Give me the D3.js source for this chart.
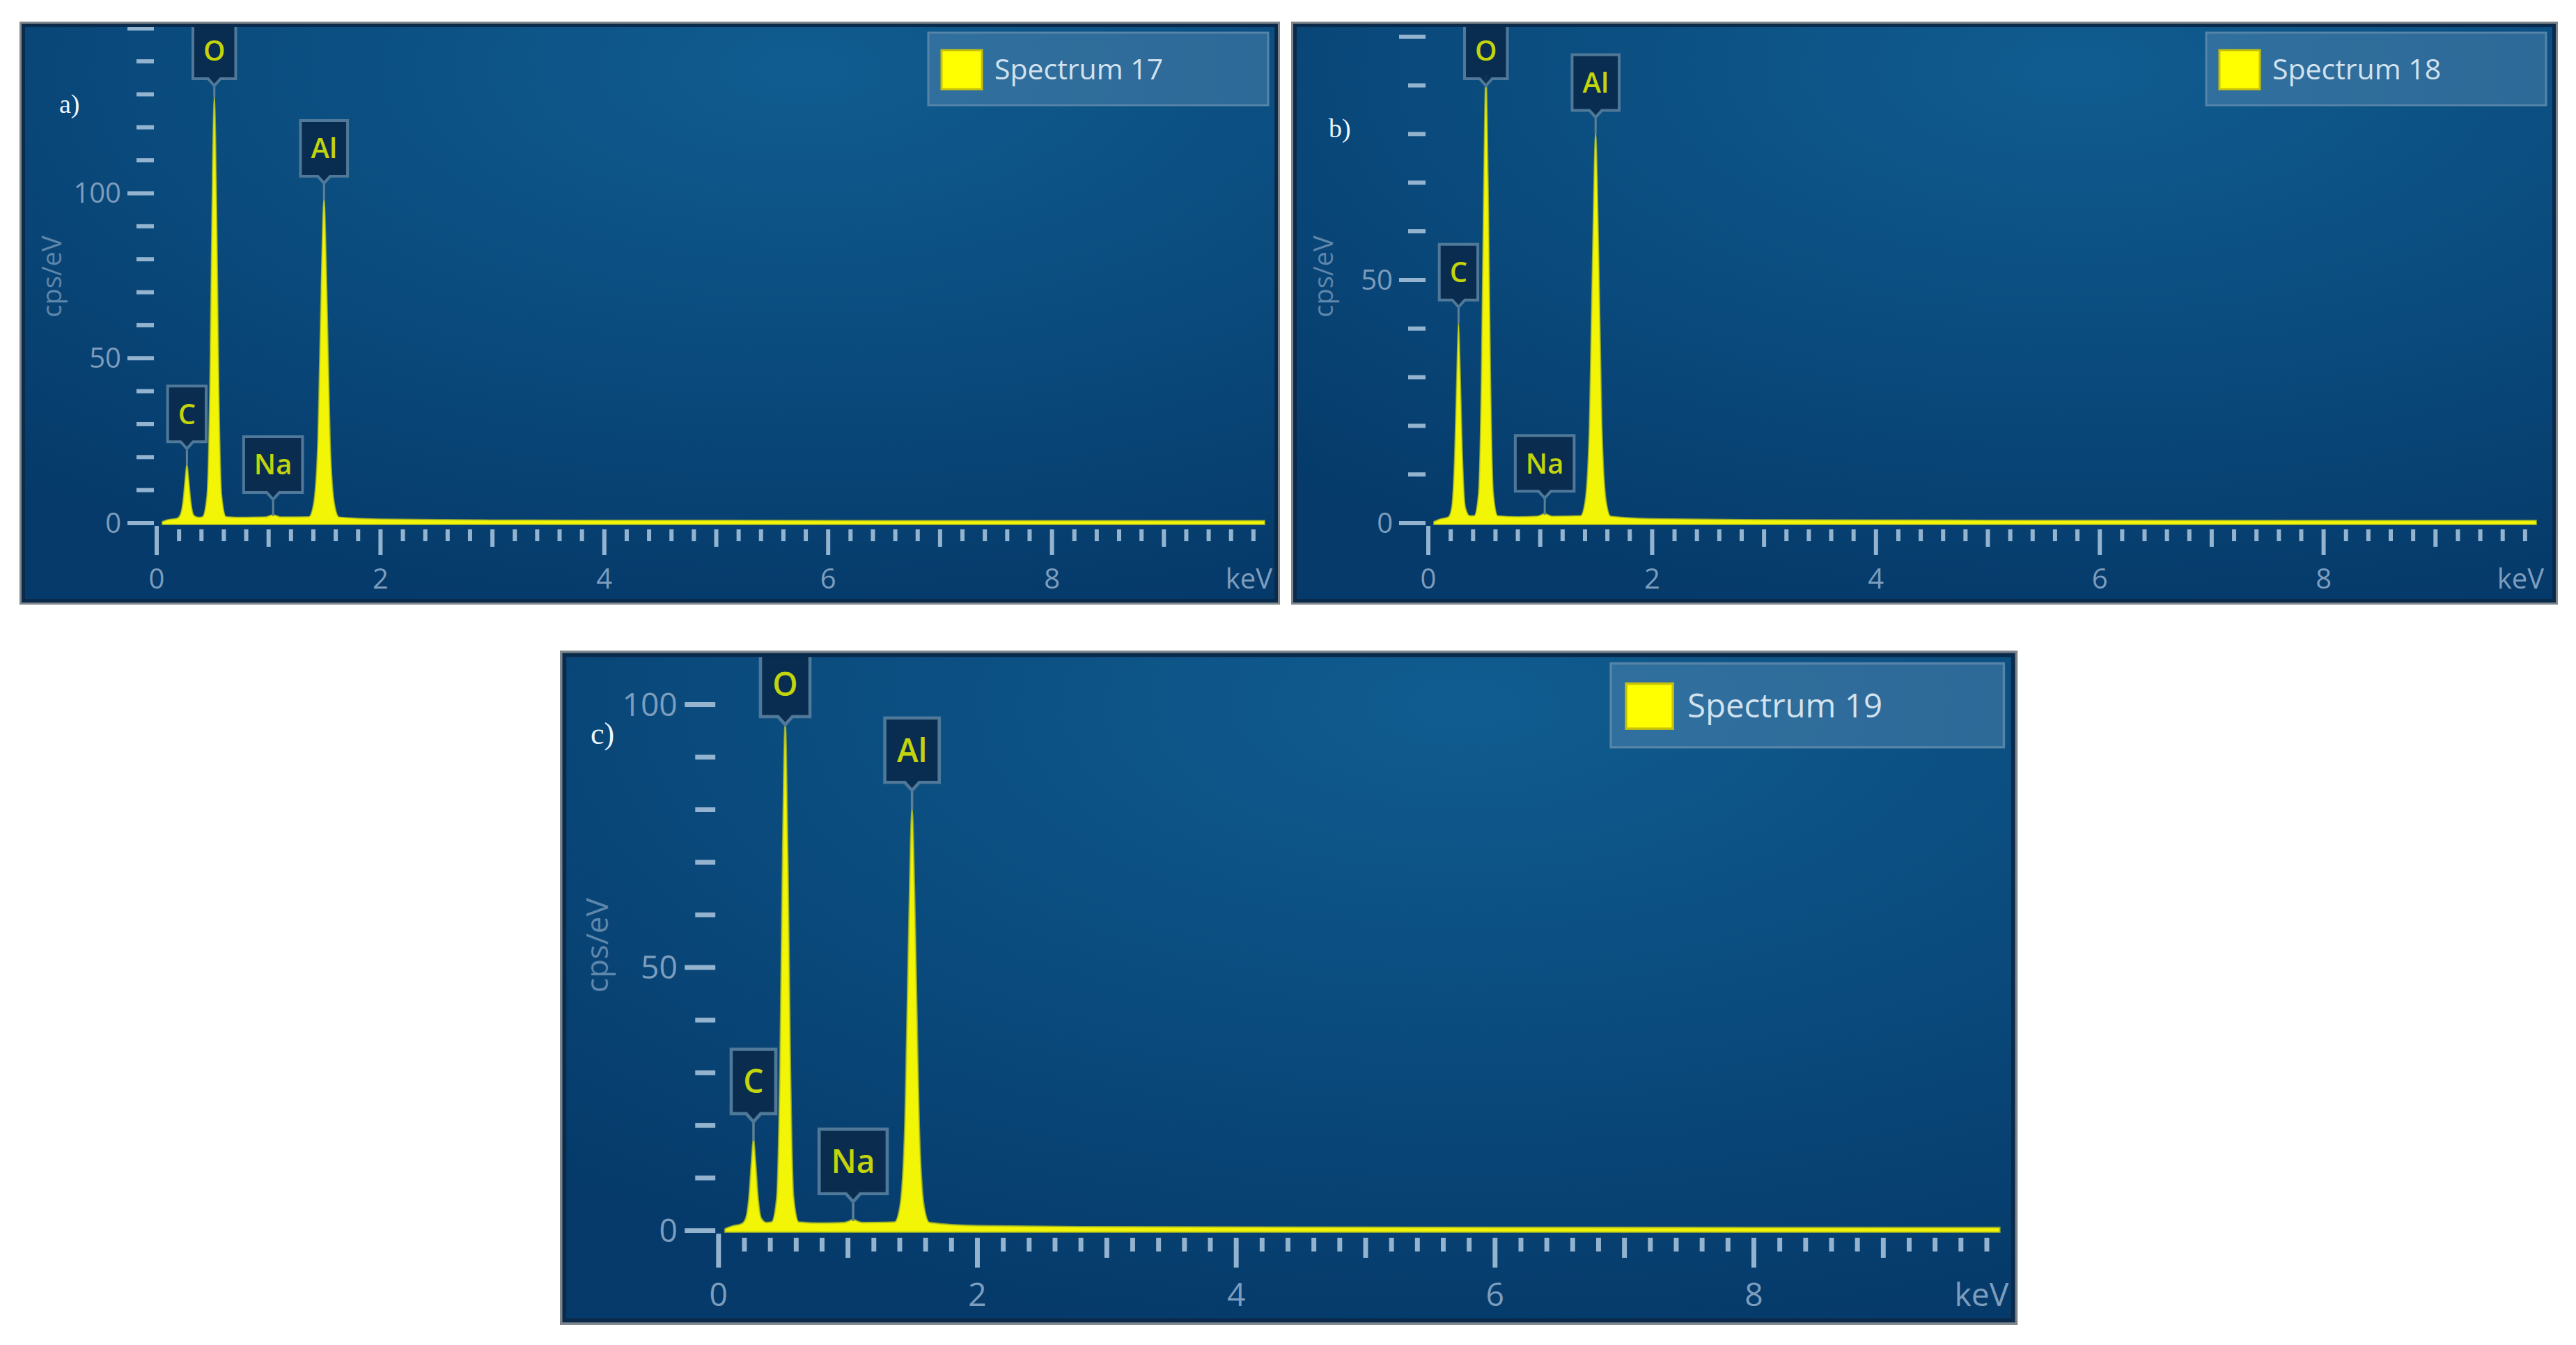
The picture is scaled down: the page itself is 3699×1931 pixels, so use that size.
<!DOCTYPE html>
<html>
<head>
<meta charset="utf-8">
<script src="https://cdn.jsdelivr.net/npm/d3@7"></script>
<style>
  html, body { margin: 0; padding: 0; background: #ffffff; }
  svg { display: block; }
</style>
</head>
<body>
<svg id="chart" width="3699" height="1931"></svg>
<script>
// ---------------- DATA ----------------
const panelLabels = ["a)", "b)", "c)"];
const spectrumNames = ["Spectrum 17", "Spectrum 18", "Spectrum 19"];
const yAxisTitle = "cps/eV";
const xAxisTitle = "keV";
const xTickLabels = [0, 2, 4, 6, 8];
const yMaxValues = [151, 102.4, 109.5];       // top of the visible y range, cps/eV
const yMajorStep = 50;
const yMinorStep = 10;
const xMinorStep = 0.2;
const elements = ["C", "O", "Na", "Al"];
const elementEnergies = [0.27, 0.515, 1.04, 1.495]; // keV

// spectra: [keV, cps/eV]
const spectrum17 = [
  [0.05,0],[0.10,0.6],[0.18,1.0],[0.21,2.0],[0.235,6],[0.255,13],[0.27,17.5],[0.285,13],[0.305,6],[0.33,2.0],[0.37,1.3],
  [0.41,1.5],[0.45,8],[0.475,40],[0.495,95],[0.515,129],[0.535,95],[0.555,40],[0.58,8],[0.62,1.5],
  [0.80,1.3],[0.97,1.4],[1.01,1.8],[1.04,2.1],[1.07,1.8],[1.11,1.4],
  [1.36,1.5],[1.40,5],[1.44,24],[1.47,70],[1.495,98],[1.52,70],[1.55,24],[1.59,5],[1.63,1.4],
  [2.0,0.8],[3.0,0.5],[5.0,0.4],[8.0,0.3],[9.9,0.3]
];
const spectrum18 = [
  [0.05,0],[0.10,0.5],[0.18,1.0],[0.21,3.0],[0.235,13],[0.255,30],[0.27,41],[0.285,30],[0.305,13],[0.33,3.0],[0.37,1.2],
  [0.41,1.2],[0.45,6],[0.475,30],[0.495,68],[0.515,92],[0.535,68],[0.555,30],[0.58,6],[0.62,1.2],
  [0.80,1.0],[0.97,1.1],[1.01,1.4],[1.04,1.7],[1.07,1.4],[1.11,1.1],
  [1.36,1.2],[1.40,4],[1.44,20],[1.47,57],[1.495,80],[1.52,57],[1.55,20],[1.59,4],[1.63,1.1],
  [2.0,0.6],[3.0,0.4],[5.0,0.3],[8.0,0.25],[9.9,0.25]
];
const spectrum19 = [
  [0.05,0],[0.10,0.5],[0.18,1.0],[0.21,2.0],[0.235,6],[0.255,13],[0.27,17],[0.285,13],[0.305,6],[0.33,2.0],[0.37,1.2],
  [0.41,1.3],[0.45,6],[0.475,31],[0.495,71],[0.515,96],[0.535,71],[0.555,31],[0.58,6],[0.62,1.3],
  [0.80,1.1],[0.97,1.2],[1.01,1.5],[1.04,1.8],[1.07,1.5],[1.11,1.2],
  [1.36,1.3],[1.40,4],[1.44,20],[1.47,57],[1.495,80],[1.52,57],[1.55,20],[1.59,4],[1.63,1.2],
  [2.0,0.6],[3.0,0.4],[5.0,0.3],[8.0,0.25],[9.9,0.25]
];
const spectra = [spectrum17, spectrum18, spectrum19];

// ---------------- LAYOUT ----------------
const panelBoxes = [
  {x: 28,   y: 31,  w: 1810, h: 837, s: 1},
  {x: 1854, y: 31,  w: 1819, h: 837, s: 1},
  {x: 804,  y: 934, w: 1810, h: 837, s: 1.1564}
];
const labelPos = [[57, 131], [54, 166], [38, 116]];

const svg = d3.select("#chart");
const defs = svg.append("defs");
const bg = defs.append("radialGradient").attr("id", "bgGrad")
  .attr("cx", "62%").attr("cy", "8%").attr("r", "95%");
bg.append("stop").attr("offset", "0%").attr("stop-color", "#105c90");
bg.append("stop").attr("offset", "55%").attr("stop-color", "#0a4a7c");
bg.append("stop").attr("offset", "100%").attr("stop-color", "#053a6a");

const FONT = "'Open Sans', 'Noto Sans', sans-serif";
const X0 = 197, X1 = 1804, Y0 = 720, YTOP = 5;

panelBoxes.forEach((pb, i) => {
  const W = pb.w, H = pb.h;
  const g = svg.append("g").attr("transform", `translate(${pb.x},${pb.y}) scale(${pb.s})`);

  const clipId = "clip" + i;
  defs.append("clipPath").attr("id", clipId)
    .append("rect").attr("x", 0).attr("y", 0).attr("width", W).attr("height", H);

  g.append("rect").attr("x", 0).attr("y", 0).attr("width", W).attr("height", H)
    .attr("fill", "url(#bgGrad)");

  const inner = g.append("g").attr("clip-path", `url(#${clipId})`);

  const x = d3.scaleLinear().domain([0, 10]).range([X0, X1]);
  const y = d3.scaleLinear().domain([0, yMaxValues[i]]).range([Y0, YTOP]);

  // ---- x ticks ----
  const xTicks = d3.range(0, 9.81, xMinorStep).map(v => Math.round(v * 10) / 10);
  inner.append("g").selectAll("line").data(xTicks).join("line")
    .attr("x1", d => x(d)).attr("x2", d => x(d))
    .attr("y1", d => d === 0 ? 724 : 729)
    .attr("y2", d => (Math.abs(d % 2) < 1e-6) ? 766 : (Math.abs(d % 1) < 1e-6 ? 754 : 746))
    .attr("stroke", "#93b3cf").attr("stroke-width", 6).attr("stroke-linecap", "butt");

  inner.append("g").selectAll("text").data(xTickLabels).join("text")
    .attr("x", d => x(d)).attr("y", 814)
    .attr("text-anchor", "middle")
    .attr("font-family", FONT).attr("font-size", 40)
    .attr("fill", "#7d9dbd")
    .text(d => d);

  inner.append("text").attr("x", 1799).attr("y", 814)
    .attr("text-anchor", "end").attr("font-family", FONT).attr("font-size", 40)
    .attr("fill", "#7d9dbd").text(xAxisTitle);

  // ---- y ticks ----
  const yTicks = d3.range(0, yMaxValues[i] + 0.01, yMinorStep);
  inner.append("g").selectAll("line").data(yTicks).join("line")
    .attr("x1", d => d % yMajorStep === 0 ? 155 : 168).attr("x2", 193)
    .attr("y1", d => y(d)).attr("y2", d => y(d))
    .attr("stroke", "#93b3cf").attr("stroke-width", 6);

  const yLabelTicks = yTicks.filter(d => d % yMajorStep === 0 && y(d) > 40);
  inner.append("g").selectAll("text").data(yLabelTicks).join("text")
    .attr("x", 146).attr("y", d => y(d)).attr("dy", "0.35em")
    .attr("text-anchor", "end").attr("font-family", FONT).attr("font-size", 40)
    .attr("fill", "#7d9dbd").text(d => d);

  inner.append("text")
    .attr("transform", `translate(60,366) rotate(-90)`)
    .attr("text-anchor", "middle").attr("font-family", FONT).attr("font-size", 38)
    .attr("fill", "#5f86ab").text(yAxisTitle);

  // ---- spectrum ----
  const plotClip = "pclip" + i;
  defs.append("clipPath").attr("id", plotClip)
    .append("rect").attr("x", X0 - 5).attr("y", 8).attr("width", W - X0).attr("height", Y0 - 8 + 4);

  const area = d3.area().x(d => x(d[0])).y0(y(0) + 2).y1(d => y(d[1]) - 2)
    .curve(d3.curveMonotoneX);
  inner.append("path").datum(spectra[i])
    .attr("clip-path", `url(#${plotClip})`)
    .attr("d", area)
    .attr("fill", "#ffff00").attr("fill-opacity", 0.95)
    .attr("stroke", "#b8c41e").attr("stroke-width", 2).attr("stroke-opacity", 0.7);

  // ---- element labels ----
  elements.forEach((el, k) => {
    const e = elementEnergies[k];
    const peak = d3.max(spectra[i].filter(p => Math.abs(p[0] - e) < 0.03), p => p[1]);
    const px = x(e), py = y(peak);
    const fs = 40, pad = 15, bh = 80, notch = 10;
    const tmp = inner.append("text").attr("font-family", FONT).attr("font-size", fs)
      .attr("font-weight", 600).text(el);
    const tw = tmp.node().getComputedTextLength();
    tmp.remove();
    const bw = tw + 2 * pad;
    let tip = py - 24;
    let top = tip - notch - bh;
    if (top < 2) { top = 2; tip = top + bh + notch; }
    const lg = inner.append("g");
    lg.append("line").attr("x1", px).attr("x2", px).attr("y1", tip).attr("y2", py)
      .attr("stroke", "#5e8196").attr("stroke-width", 3);
    const l = px - bw / 2, r = px + bw / 2, b = top + bh;
    lg.append("path")
      .attr("d", `M${l},${top} H${r} V${b} H${px + 9} L${px},${b + notch} L${px - 9},${b} H${l} Z`)
      .attr("fill", "#0a2a4c").attr("fill-opacity", 0.92)
      .attr("stroke", "#4f7899").attr("stroke-width", 4);
    lg.append("text").attr("x", px).attr("y", top + bh / 2).attr("dy", "0.36em")
      .attr("text-anchor", "middle").attr("font-family", FONT).attr("font-size", fs)
      .attr("font-weight", 600)
      .attr("fill", "#c4d40c").text(el);
  });

  // ---- legend ----
  const leg = inner.append("g");
  leg.append("rect").attr("x", W - 505).attr("y", 16).attr("width", 488).attr("height", 104)
    .attr("fill", "#6696bc").attr("fill-opacity", 0.38)
    .attr("stroke", "#5584a8").attr("stroke-width", 3);
  leg.append("rect").attr("x", W - 486).attr("y", 41).attr("width", 58).attr("height", 56)
    .attr("fill", "#ffff00").attr("stroke", "#c6c10a").attr("stroke-width", 3);
  leg.append("text").attr("x", W - 410).attr("y", 69).attr("dy", "0.35em")
    .attr("font-family", FONT).attr("font-size", 41).attr("fill", "#d2e2ee")
    .text(spectrumNames[i]);

  // ---- panel letter ----
  inner.append("text").attr("x", labelPos[i][0]).attr("y", labelPos[i][1])
    .attr("font-family", "'Liberation Serif', serif").attr("font-size", 38)
    .attr("fill", "#eef6ff").text(panelLabels[i]);

  // ---- frame ----
  g.append("rect").attr("x", 5).attr("y", 5).attr("width", W - 10).attr("height", H - 10)
    .attr("fill", "none").attr("stroke", "#0a2a4c").attr("stroke-width", 6);
  g.append("rect").attr("x", 1.5).attr("y", 1.5).attr("width", W - 3).attr("height", H - 3)
    .attr("fill", "none").attr("stroke", "#7f878d").attr("stroke-width", 3);
});
</script>
</body>
</html>
